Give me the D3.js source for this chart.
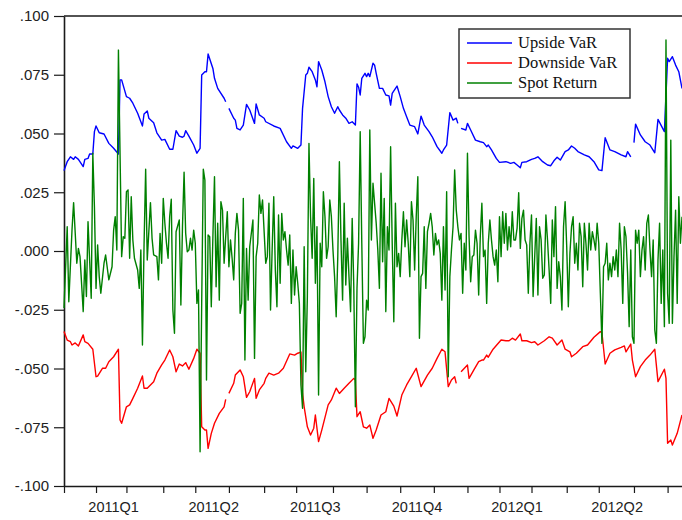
<!DOCTYPE html>
<html>
<head>
<meta charset="utf-8">
<script src="https://cdnjs.cloudflare.com/ajax/libs/d3/7.8.5/d3.min.js"></script>
<style>
  body { margin: 0; background: #fff; }
  svg { display: block; }
</style>
</head>
<body>
<div id="chart"></div>
<script>
// observations are trading days counted from the first day of 2011
var monthTicks = [0, 20, 39, 62, 82, 103, 125, 145, 168, 189, 210, 231, 252, 272, 292, 314, 334, 356, 377];
var quarterLabels = ["2011Q1", "2011Q2", "2011Q3", "2011Q4", "2012Q1", "2012Q2"];
var yTicks = [-0.1, -0.075, -0.05, -0.025, 0, 0.025, 0.05, 0.075, 0.1];
var lastDay = 386;

// [day, value] pairs, null = missing
var upsideVaR = [[0,.0342],[2,.0380],[4,.0401],[6,.0390],[7,.0401],[9,.0390],[12,.0359],[13,.0390],[15,.0394],[16,.0413],[18,.0413],[19,.0508],[20,.0532],[22,.0503],[25,.0498],[28,.0458],[31,.0437],[34,.0413],[35,.0728],[36,.0728],[39,.0657],[41,.0650],[43,.0629],[46,.0586],[49,.0532],[50,.0583],[52,.0596],[53,.0565],[56,.0546],[58,.0503],[61,.0472],[63,.0475],[66,.0433],[68,.0433],[70,.0512],[72,.0489],[74,.0484],[75,.0489],[76,.0512],[78,.0489],[81,.0451],[83,.0416],[85,.0437],[86,.0749],[88,.0763],[89,.0763],[90,.0838],[93,.0777],[94,.0735],[96,.0692],[100,.0650],[101,.0635],[102,null],[103,.0607],[106,.0565],[107,.0557],[108,.0522],[110,.0515],[112,.0536],[114,.0624],[116,.0600],[119,.0543],[120,.0626],[122,.0579],[125,.0565],[126,.0550],[131,.0532],[135,.0522],[139,.0465],[142,.0437],[143,.0447],[146,.0437],[148,.0451],[149,.0607],[151,.0749],[152,.0756],[153,.0782],[155,.0763],[157,.0728],[158,.0699],[159,.0806],[161,.0770],[163,.0720],[165,.0657],[167,.0614],[169,.0586],[170,.0600],[171,.0614],[172,.0600],[174,.0579],[176,.0565],[178,.0543],[180,.0550],[182,.0536],[183,.0711],[184,.0697],[185,.0664],[186,.0735],[188,.0756],[189,.0742],[190,.0756],[191,.0742],[193,.0799],[194,.0791],[195,.0756],[197,.0692],[199,.0692],[201,.0664],[203,.0660],[204,.0621],[205,.0671],[208,.0702],[210,.0657],[212,.0607],[214,.0571],[216,.0536],[219,.0529],[221,.0498],[223,.0574],[225,.0536],[228,.0508],[230,.0486],[233,.0444],[236,.0416],[237,.0430],[239,.0451],[241,.0589],[243,.0557],[245,.0565],[246,.0543],[247,null],[248,.0522],[251,.0515],[252,.0543],[254,.0515],[257,.0472],[260,.0465],[262,.0461],[264,.0444],[265,.0451],[267,.0430],[270,.0394],[272,.0377],[276,.0380],[279,.0373],[281,.0377],[283,.0366],[285,.0354],[286,.0377],[289,.0380],[292,.0390],[294,.0394],[296,.0401],[299,.0380],[302,.0366],[304,.0363],[306,.0384],[308,.0399],[310,.0387],[313,.0423],[315,.0430],[317,.0447],[319,.0437],[321,.0423],[325,.0409],[328,.0401],[331,.0380],[334,.0345],[336,.0342],[338,.0482],[341,.0430],[344,.0423],[348,.0409],[351,.0401],[352,.0423],[354,.0401],[355,null],[356,.0461],[357,.0540],[360,.0494],[363,.0465],[366,.0451],[369,.0418],[371,.0560],[375,.0508],[377,.0820],[378,.0806],[380,.0827],[382,.0791],[384,.0763],[386,.0692]];

var downsideVaR = [[0,-.0343],[2,-.0379],[4,-.0386],[5,-.0400],[7,-.0391],[9,-.0404],[12,-.0357],[13,-.0386],[15,-.0393],[18,-.0418],[20,-.0535],[21,-.0532],[24,-.0499],[26,-.0499],[28,-.0471],[31,-.0450],[34,-.0418],[35,-.0719],[36,-.0733],[39,-.0663],[41,-.0655],[43,-.0627],[46,-.0584],[49,-.0532],[50,-.0584],[52,-.0584],[54,-.0570],[56,-.0556],[58,-.0520],[61,-.0485],[63,-.0464],[66,-.0421],[68,-.0450],[70,-.0514],[72,-.0481],[74,-.0489],[76,-.0475],[78,-.0503],[81,-.0457],[83,-.0418],[85,-.0435],[86,-.0748],[88,-.0762],[89,-.0762],[90,-.0840],[92,-.0776],[94,-.0733],[97,-.0691],[100,-.0663],[101,-.0631],[102,null],[103,-.0606],[106,-.0563],[107,-.0528],[110,-.0506],[112,-.0535],[114,-.0623],[116,-.0599],[119,-.0542],[120,-.0627],[122,-.0591],[125,-.0563],[126,-.0542],[128,-.0520],[131,-.0528],[134,-.0520],[137,-.0499],[141,-.0438],[144,-.0443],[146,-.0435],[148,-.0430],[149,-.0606],[150,-.0663],[152,-.0748],[154,-.0783],[156,-.0754],[157,-.0698],[159,-.0811],[161,-.0762],[165,-.0655],[167,-.0634],[170,-.0584],[172,-.0606],[175,-.0584],[178,-.0563],[181,-.0542],[182,-.0549],[183,-.0705],[185,-.0684],[187,-.0748],[189,-.0754],[191,-.0740],[193,-.0797],[195,-.0762],[198,-.0698],[201,-.0684],[203,-.0627],[206,-.0660],[208,-.0702],[211,-.0613],[214,-.0570],[217,-.0535],[220,-.0499],[223,-.0577],[227,-.0528],[230,-.0499],[233,-.0457],[236,-.0418],[238,-.0429],[240,-.0577],[242,-.0549],[244,-.0535],[245,-.0563],[247,null],[248,-.0514],[252,-.0485],[253,-.0542],[256,-.0506],[259,-.0471],[261,-.0464],[262,-.0464],[264,-.0443],[265,-.0452],[268,-.0418],[273,-.0379],[276,-.0382],[278,-.0382],[280,-.0371],[282,-.0379],[285,-.0353],[286,-.0382],[289,-.0382],[292,-.0390],[294,-.0386],[296,-.0400],[300,-.0382],[303,-.0365],[305,-.0371],[308,-.0400],[311,-.0379],[313,-.0418],[316,-.0429],[317,-.0450],[320,-.0435],[324,-.0407],[327,-.0400],[331,-.0367],[335,-.0343],[336,-.0348],[338,-.0481],[341,-.0435],[344,-.0421],[348,-.0410],[350,-.0404],[351,-.0429],[353,-.0407],[354,-.0396],[355,-.0464],[357,-.0535],[360,-.0492],[363,-.0464],[366,-.0443],[369,-.0418],[371,-.0556],[375,-.0503],[376,-.0542],[377,-.0818],[379,-.0804],[380,-.0826],[383,-.0776],[386,-.0698]];

var spotReturn = [[0,-.0243],[2,.0103],[3,-.0216],[5,.0089],[6,.0206],[8,-.0052],[9,.0011],[10,-.0024],[12,-.0258],[13,-.0038],[14,-.0194],[15,.0125],[17,-.0201],[18,.0416],[19,.0189],[20,-.0159],[21,.0026],[22,-.0109],[23,-.0180],[25,-.0052],[26,-.0017],[28,-.0123],[30,-.0067],[31,.0089],[32,.0146],[33,.0004],[34,.0855],[36,-.0024],[37,.0061],[38,.0054],[39,.0252],[40,.0260],[41,-.0031],[42,.0231],[43,.0047],[44,-.0031],[46,-.0081],[47,-.0159],[48,.0004],[49,-.0400],[50,.0026],[51,.0348],[52,-.0038],[54,.0206],[55,.0054],[56,-.0017],[58,-.0024],[59,-.0123],[60,.0075],[61,-.0052],[62,.0224],[63,.0118],[64,.0033],[65,-.0031],[66,.0146],[67,.0220],[68,-.0251],[69,-.0350],[70,.0082],[72,.0132],[73,-.0230],[74,.0103],[75,.0335],[76,.0075],[77,-.0003],[78,.0004],[79,.0054],[80,.0004],[81,.0089],[82,.0033],[83,-.0223],[84,-.0166],[85,-.0854],[86,-.0223],[87,.0348],[88,.0302],[89,-.0549],[90,.0068],[91,.0061],[92,-.0237],[93,.0061],[94,.0316],[95,-.0152],[96,.0118],[97,-.0209],[98,.0210],[99,.0174],[100,-.0052],[101,.0061],[102,.0167],[103,-.0067],[104,.0047],[105,-.0031],[106,-.0123],[107,.0075],[108,.0160],[109,.0089],[110,-.0265],[111,-.0223],[112,.0224],[113,-.0464],[114,.0011],[115,-.0209],[116,.0018],[118,.0132],[119,-.0457],[120,-.0024],[121,.0033],[122,.0238],[123,.0160],[124,.0217],[126,-.0052],[127,-.0024],[128,.0203],[129,-.0251],[130,.0004],[131,.0231],[132,-.0081],[133,-.0237],[134,.0153],[135,-.0137],[136,.0160],[137,.0047],[138,.0082],[139,.0004],[140,-.0060],[141,.0068],[142,-.0223],[143,.0004],[144,-.0187],[145,-.0067],[146,-.0137],[147,-.0223],[148,-.0570],[149,-.0669],[150,.0018],[151,-.0514],[152,-.0194],[153,.0458],[154,.0146],[155,-.0031],[156,.0309],[157,-.0137],[158,.0103],[159,-.0613],[160,.0033],[161,-.0067],[162,.0252],[163,.0146],[164,-.0031],[165,.0018],[166,.0217],[167,.0146],[168,.0004],[169,-.0109],[170,-.0280],[171,-.0024],[172,.0380],[173,.0047],[174,-.0209],[175,.0203],[176,-.0145],[177,.0054],[178,-.0109],[179,-.0258],[180,.0139],[181,-.0152],[182,-.0663],[183,-.0159],[184,.0033],[185,.0508],[186,.0033],[187,-.0393],[188,-.0365],[189,-.0209],[190,-.0251],[191,.0515],[192,.0047],[193,.0288],[195,.0118],[196,.0004],[197,-.0159],[198,.0331],[199,-.0046],[200,.0224],[201,-.0258],[202,.0103],[203,.0004],[204,.0444],[205,.0033],[206,-.0301],[207,.0203],[208,-.0067],[209,-.0010],[210,-.0109],[211,.0047],[212,.0167],[213,.0018],[214,.0132],[215,.0033],[216,-.0109],[217,.0210],[218,.0132],[219,-.0081],[220,.0146],[221,.0316],[222,-.0371],[223,-.0109],[224,-.0095],[225,.0103],[226,-.0159],[227,.0082],[228,.0118],[229,.0160],[230,.0103],[231,-.0017],[232,.0075],[233,.0026],[234,.0047],[235,-.0010],[236,-.0209],[237,.0103],[238,-.0166],[239,.0252],[240,-.0535],[241,-.0109],[242,.0004],[243,.0103],[244,.0345],[245,.0174],[246,.0103],[247,.0047],[248,.0075],[249,-.0180],[250,.0033],[251,-.0081],[252,.0416],[253,.0061],[254,-.0131],[255,-.0024],[256,-.0017],[257,.0089],[258,.0033],[259,-.0187],[260,.0061],[261,.0203],[262,-.0024],[263,.0004],[264,-.0223],[265,.0033],[266,.0132],[267,.0047],[268,-.0024],[269,-.0060],[270,.0004],[271,-.0131],[272,.0146],[273,-.0024],[274,.0167],[275,.0033],[276,.0160],[277,.0004],[278,.0103],[279,.0018],[280,.0167],[281,.0047],[282,.0047],[283,.0097],[284,.0248],[285,.0011],[286,.0139],[287,.0174],[288,.0047],[289,.0026],[290,-.0180],[291,.0033],[292,.0153],[293,-.0194],[294,-.0024],[295,.0139],[296,-.0187],[297,.0103],[298,.0047],[299,-.0116],[300,-.0102],[301,.0153],[302,.0047],[303,-.0081],[304,-.0223],[305,.0132],[306,-.0024],[307,.0189],[308,-.0159],[309,-.0046],[310,-.0109],[311,-.0251],[312,.0103],[313,.0210],[314,.0018],[315,-.0237],[316,-.0010],[317,.0103],[318,.0146],[319,-.0052],[320,.0033],[321,-.0081],[322,.0118],[323,.0061],[324,-.0152],[325,.0118],[326,.0033],[327,-.0081],[328,.0118],[329,.0004],[330,.0082],[331,.0047],[332,.0004],[333,.0118],[334,.0033],[335,-.0180],[336,-.0393],[337,-.0067],[338,-.0052],[339,.0033],[340,-.0123],[341,-.0052],[342,-.0109],[343,-.0024],[344,-.0081],[345,.0004],[346,-.0109],[347,.0118],[348,.0004],[349,-.0223],[350,.0103],[351,.0061],[352,-.0095],[353,-.0322],[354,.0004],[355,-.0365],[356,-.0393],[357,.0089],[358,.0033],[359,.0089],[360,-.0109],[361,.0004],[362,.0061],[363,-.0081],[364,.0118],[365,.0153],[366,.0004],[367,-.0109],[368,.0047],[369,-.0336],[370,-.0393],[371,-.0038],[372,.0118],[373,-.0223],[374,.0004],[375,-.0322],[376,.0898],[377,-.0180],[378,-.0308],[379,.0472],[380,-.0308],[381,-.0024],[382,.0174],[383,-.0223],[384,.0231],[385,.0033],[386,.0146]];

var seriesNames = ["Upside VaR", "Downside VaR", "Spot Return"];
var seriesColors = ["#0000ff", "#ff0000", "#008000"];

var width = 682, height = 520;
var margin = {top: 16, left: 64, bottom: 34};

var svg = d3.select("#chart").append("svg")
  .attr("width", width)
  .attr("height", height);

var x = d3.scaleLinear().domain([0, lastDay]).range([margin.left, width]);
var y = d3.scaleLinear().domain([-0.1, 0.1]).range([height - margin.bottom, margin.top]);

// EViews style: ".050", "-.025"
var fmt = function(d) {
  var s = Math.abs(d).toFixed(3).replace(/^0\./, ".");
  return (d < 0 ? "-" : "") + s;
};

// top frame line
svg.append("line")
  .attr("x1", x(0)).attr("x2", width)
  .attr("y1", y(0.1)).attr("y2", y(0.1))
  .attr("stroke", "#1a1a1a").attr("stroke-width", 1.6);

// y axis
var yAxis = svg.append("g")
  .attr("transform", "translate(" + x(0) + ",0)")
  .call(d3.axisLeft(y).tickValues(yTicks).tickFormat(fmt).tickSize(10).tickSizeOuter(0).tickPadding(5));
yAxis.select(".domain").attr("stroke", "#1a1a1a").attr("stroke-width", 1.6);
yAxis.selectAll(".tick line").attr("stroke", "#1a1a1a").attr("stroke-width", 1.2);
yAxis.selectAll(".tick text")
  .attr("font-family", "Liberation Sans, Arial, sans-serif")
  .attr("font-size", "15px")
  .attr("fill", "#222");

// x axis (monthly ticks, quarter labels)
var xAxis = svg.append("g")
  .attr("transform", "translate(0," + y(-0.1) + ")")
  .call(d3.axisBottom(x).tickValues(monthTicks).tickFormat("").tickSize(7).tickSizeOuter(0));
xAxis.select(".domain").attr("stroke", "#1a1a1a").attr("stroke-width", 1.6);
xAxis.selectAll(".tick line").attr("stroke", "#1a1a1a").attr("stroke-width", 1.2);

svg.selectAll(".qlabel").data(quarterLabels).enter()
  .append("text")
  .attr("class", "qlabel")
  .attr("x", function(d, i) { return x((monthTicks[i * 3] + monthTicks[i * 3 + 3]) / 2); })
  .attr("y", y(-0.1) + 26)
  .attr("text-anchor", "middle")
  .attr("font-family", "Liberation Sans, Arial, sans-serif")
  .attr("font-size", "14.5px")
  .attr("fill", "#222")
  .text(function(d) { return d; });

// series
var line = d3.line()
  .defined(function(d) { return d[1] !== null; })
  .x(function(d) { return x(d[0]); })
  .y(function(d) { return y(d[1]); });

var plot = svg.append("g");
[upsideVaR, downsideVaR, spotReturn].forEach(function(s, i) {
  plot.append("path")
    .datum(s)
    .attr("fill", "none")
    .attr("stroke", seriesColors[i])
    .attr("stroke-width", 1.4)
    .attr("stroke-linejoin", "round")
    .attr("d", line);
});

// legend
var legend = svg.append("g").attr("transform", "translate(459,29)");
legend.append("rect")
  .attr("width", 171).attr("height", 69)
  .attr("fill", "#fff").attr("stroke", "#333").attr("stroke-width", 1.5);
seriesNames.forEach(function(name, i) {
  legend.append("line")
    .attr("x1", 8).attr("x2", 53)
    .attr("y1", 14 + i * 20).attr("y2", 14 + i * 20)
    .attr("stroke", seriesColors[i]).attr("stroke-width", 1.4);
  legend.append("text")
    .attr("x", 59).attr("y", 19 + i * 20)
    .attr("font-family", "Liberation Serif, Times New Roman, serif")
    .attr("font-size", "16.5px")
    .attr("fill", "#111")
    .text(name);
});
</script>
</body>
</html>
